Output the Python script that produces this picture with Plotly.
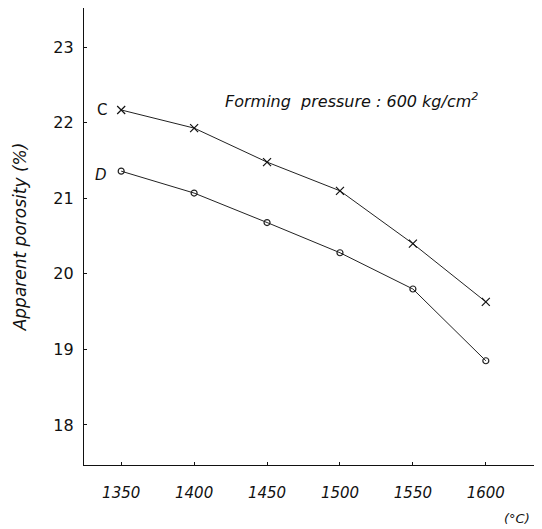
import plotly.graph_objects as go

temperatures = [1350, 1400, 1450, 1500, 1550, 1600]
porosity_C = [22.17, 21.93, 21.48, 21.10, 20.40, 19.63]
porosity_D = [21.36, 21.07, 20.68, 20.28, 19.80, 18.85]
x_ticks = [1350, 1400, 1450, 1500, 1550, 1600]
y_ticks = [18, 19, 20, 21, 22, 23]

fnt = "DejaVu Sans"
fig = go.Figure()
fig.add_trace(go.Scatter(
    x=temperatures, y=porosity_C, mode="lines+markers",
    line=dict(color="#222", width=1),
    marker=dict(symbol="x-thin", size=8, line=dict(color="#111", width=1.2)),
    showlegend=False))
fig.add_trace(go.Scatter(
    x=temperatures, y=porosity_D, mode="lines+markers",
    line=dict(color="#222", width=1),
    marker=dict(symbol="circle-open", size=6, line=dict(color="#111", width=1.2)),
    showlegend=False))

fig.add_annotation(x=temperatures[0], y=porosity_C[0], text="C", showarrow=False,
                   xanchor="right", xshift=-12, font=dict(family=fnt, size=15, color="#111"))
fig.add_annotation(x=temperatures[0], y=porosity_D[0], text="D", showarrow=False,
                   xanchor="right", xshift=-12, yshift=-4,
                   font=dict(family=fnt, size=15, color="#111", style="italic"))
fig.add_annotation(x=1508, y=22.29, text="Forming  pressure : 600 kg/cm<sup>2</sup>", showarrow=False,
                   font=dict(family=fnt, size=16, color="#111", style="italic"))
fig.add_annotation(xref="paper", yref="paper", x=0.93, y=-0.118, text="(°C)", showarrow=False,
                   xanchor="center", yanchor="middle",
                   font=dict(family=fnt, size=13, color="#111", style="italic"))

fig.update_layout(
    width=542, height=529,
    margin=dict(l=76, r=0, t=0, b=72),
    plot_bgcolor="white", paper_bgcolor="white",
    xaxis=dict(range=[1324.5, 1644], tickvals=x_ticks, showline=True, linecolor="#111",
               linewidth=1.2, ticks="inside", ticklen=3, tickcolor="#111", showgrid=False,
               zeroline=False, ticklabelstandoff=14,
               tickfont=dict(family=fnt, size=15, color="#111", style="italic")),
    yaxis=dict(range=[17.47, 23.52], tickvals=y_ticks, showline=True, linecolor="#111",
               linewidth=1.2, ticks="inside", ticklen=3, tickcolor="#111", showgrid=False,
               zeroline=False, ticklabelstandoff=6,
               title=dict(text="Apparent porosity (%)", standoff=22,
                          font=dict(family=fnt, size=17, color="#111", style="italic")),
               tickfont=dict(family=fnt, size=16, color="#111")),
)
fig.write_html("out.html")
